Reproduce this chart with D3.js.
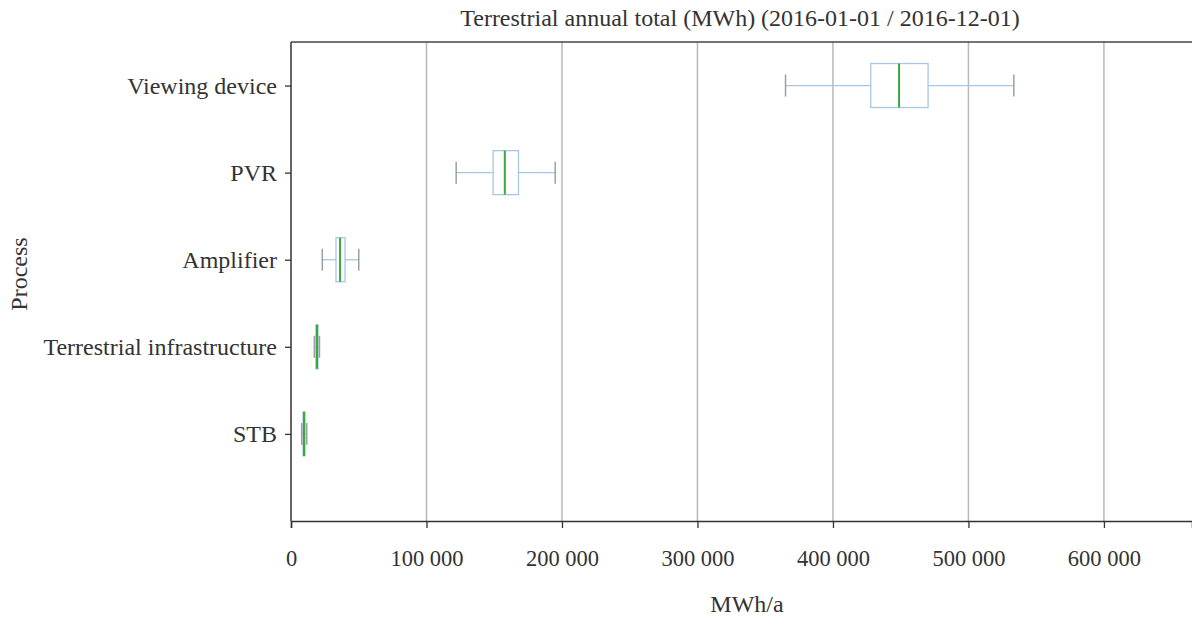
<!DOCTYPE html>
<html>
<head>
<meta charset="utf-8">
<script src="https://cdn.jsdelivr.net/npm/d3@7"></script>
<style>
  body { margin: 0; background: #fff; }
  svg { display: block; font-family: "Liberation Serif", "Times New Roman", serif; }
</style>
</head>
<body>
<svg id="chart" width="1192" height="619"></svg>
<script>
const width = 1192;
const height = 619;
const margin = { top: 42, right: 0, bottom: 98, left: 291 };

// categories top to bottom (an empty half slot is left below STB)
const processes = ['Viewing device', 'PVR', 'Amplifier', 'Terrestrial infrastructure', 'STB'];
const whiskerLow  = [365000, 121900, 23100, 17200, 7900];
const q1          = [427900, 149200, 33200, 18300, 8900];
const median      = [448800, 157800, 36200, 19200, 9600];
const q3          = [470200, 167900, 39900, 20000, 10400];
const whiskerHigh = [533500, 195000, 50000, 21000, 11600];
const xTicks = [0, 100000, 200000, 300000, 400000, 500000, 600000];
const xMax = 665000;

const title = 'Terrestrial annual total (MWh) (2016-01-01 / 2016-12-01)';

const svg = d3.select('#chart');
const plotW = width - margin.left - margin.right;
const plotH = height - margin.top - margin.bottom;

const x = d3.scaleLinear().domain([0, xMax]).range([margin.left, margin.left + plotW]);
const yi = d3.scaleLinear().domain([-0.5, 5]).range([margin.top, margin.top + plotH]);
const yc = name => yi(processes.indexOf(name));

// grid
svg.append('g').selectAll('line').data(xTicks.slice(1)).enter().append('line')
  .attr('x1', d => x(d)).attr('x2', d => x(d))
  .attr('y1', margin.top).attr('y2', margin.top + plotH)
  .attr('stroke', '#b8b8b8').attr('stroke-width', 1.5);

const data = processes.map((p, i) => ({
  p, lo: whiskerLow[i], q1: q1[i], med: median[i], q3: q3[i], hi: whiskerHigh[i]
}));

const boxH = 44, capH = 22;
const g = svg.append('g').selectAll('g').data(data).enter().append('g');

g.append('line')
  .attr('x1', d => x(d.lo)).attr('x2', d => x(d.q1))
  .attr('y1', d => yc(d.p)).attr('y2', d => yc(d.p))
  .attr('stroke', '#a6c8e4').attr('stroke-width', 1.3);
g.append('line')
  .attr('x1', d => x(d.q3)).attr('x2', d => x(d.hi))
  .attr('y1', d => yc(d.p)).attr('y2', d => yc(d.p))
  .attr('stroke', '#a6c8e4').attr('stroke-width', 1.3);
g.append('rect')
  .attr('x', d => x(d.q1)).attr('width', d => Math.max(0.5, x(d.q3) - x(d.q1)))
  .attr('y', d => yc(d.p) - boxH / 2).attr('height', boxH)
  .attr('fill', 'none').attr('stroke', '#a6c8e4').attr('stroke-width', 1.3);
['lo', 'hi'].forEach(k => {
  g.append('line')
    .attr('x1', d => x(d[k])).attr('x2', d => x(d[k]))
    .attr('y1', d => yc(d.p) - capH / 2).attr('y2', d => yc(d.p) + capH / 2)
    .attr('stroke', '#888').attr('stroke-width', 1.5).attr('opacity', 0.8);
});
g.append('line')
  .attr('x1', d => x(d.med)).attr('x2', d => x(d.med))
  .attr('y1', d => yc(d.p) - boxH / 2).attr('y2', d => yc(d.p) + boxH / 2)
  .attr('stroke', '#3aa83a').attr('stroke-width', 2);

// top spine
svg.append('line').attr('x1', margin.left).attr('x2', width).attr('y1', margin.top).attr('y2', margin.top)
  .attr('stroke', '#444').attr('stroke-width', 1.5);

const xAxis = svg.append('g').attr('transform', `translate(0,${margin.top + plotH})`)
  .call(d3.axisBottom(x).tickValues(xTicks).tickSize(7).tickPadding(22)
    .tickFormat(d => d3.format(',')(d).replace(/,/g, ' ')));
xAxis.select('.domain').attr('stroke', '#333').attr('stroke-width', 1.5);
xAxis.selectAll('.tick line').attr('stroke', '#333').attr('stroke-width', 1.3);
xAxis.selectAll('text').attr('font-size', 22.5).attr('fill', '#333')
  .attr('font-family', '"Liberation Serif", serif');

const yAxis = svg.append('g').attr('transform', `translate(${margin.left},0)`)
  .call(d3.axisLeft(d3.scaleOrdinal().domain(processes).range(processes.map(yc)))
    .tickSize(6).tickPadding(8));
yAxis.select('.domain').attr('stroke', '#333').attr('stroke-width', 1.5).attr('d',
  `M0,${margin.top}V${margin.top + plotH}`);
yAxis.selectAll('.tick line').attr('stroke', '#333').attr('stroke-width', 1.3);
yAxis.selectAll('text').attr('font-size', 24).attr('fill', '#333')
  .attr('font-family', '"Liberation Serif", serif');

svg.append('text').attr('x', 740).attr('y', 26).attr('text-anchor', 'middle')
  .attr('font-size', 24).attr('fill', '#333').text(title);
svg.append('text').attr('x', 747).attr('y', 612).attr('text-anchor', 'middle')
  .attr('font-size', 24).attr('fill', '#333').text('MWh/a');
svg.append('text').attr('transform', 'translate(27,274) rotate(-90)').attr('text-anchor', 'middle')
  .attr('font-size', 24).attr('fill', '#333').text('Process');
</script>
</body>
</html>
